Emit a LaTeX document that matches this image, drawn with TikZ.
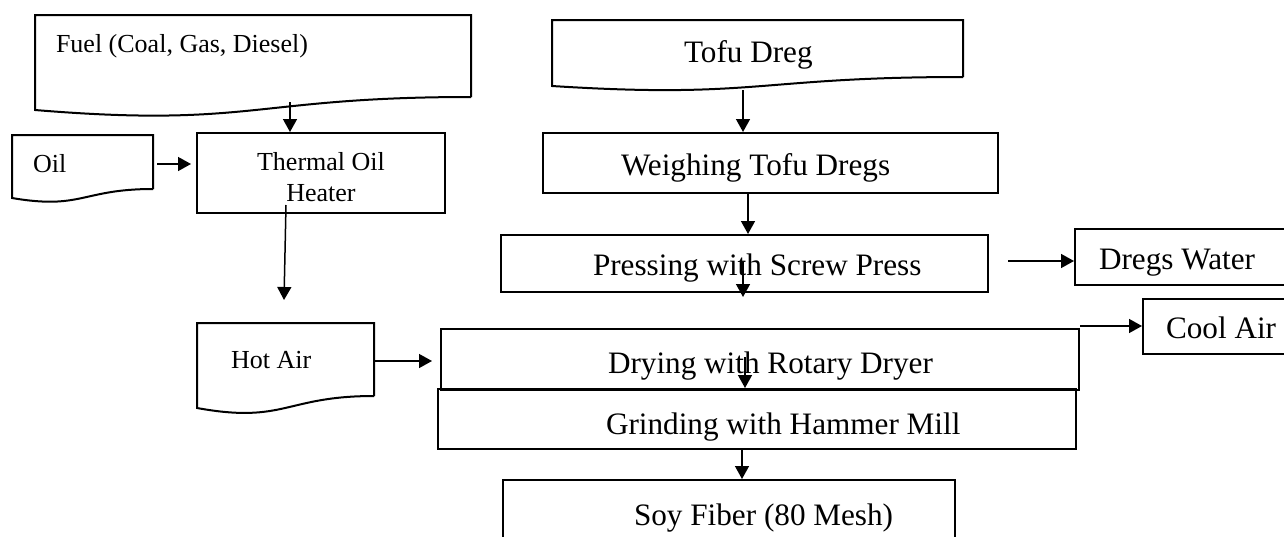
\documentclass[tikz,border=0pt]{standalone}
\usepackage{fontspec}
\setmainfont{Liberation Serif}
\usetikzlibrary{arrows.meta, positioning, fit}

\begin{document}
\begin{tikzpicture}[x=0.5pt,y=-0.5pt,line width=1pt,
box/.style={draw,rectangle,inner sep=0pt,line width=1pt},
sml/.style={inner sep=0pt,anchor=base west,font=\fontsize{13}{15.5}\selectfont},
big/.style={inner sep=0pt,anchor=base west,font=\fontsize{15.6}{18}\selectfont},
arr/.style={-{Triangle[length=6.5pt,width=7pt]},line width=0.75pt},
doc/.style={line width=1pt,line join=miter}
]
\useasboundingbox (0,0) rectangle (1284,536);
\clip (0,0) rectangle (1284,536);

% left column: heater
\draw[doc] (471,97) -- (471,15) -- (35,15) -- (35,110) .. controls (253,128) and (253,97) .. (471,97);
\node[sml] (fuel) at (55,52) {Fuel (Coal, Gas, Diesel)};
\draw[doc] (153,189) -- (153,135) -- (12,135) -- (12,198) .. controls (82,210) and (82,189) .. (153,189);
\node[sml] (oil) at (32,172) {Oil};
\node[box,fit={(197,133) (445,213)}] (heater) {};
\node[sml,anchor=base,align=center] (heatertxt) at (321,201) {Thermal Oil\\Heater};
\draw[doc] (374,396) -- (374,323) -- (197,323) -- (197,408) .. controls (285,424) and (285,396) .. (374,396);
\node[sml] (hot) at (230,368) {Hot Air};

% main line
\draw[doc] (963,77) -- (963,20) -- (552,20) -- (552,86) .. controls (757,99) and (757,77) .. (963,77);
\node[big] (tofu) at (683,62) {Tofu Dreg};
\node[box,fit={(543,133) (998,193)}] (weigh) {};
\node[big] (weightxt) at (620,175) {Weighing Tofu Dregs};
\node[box,fit={(501,235) (988,292)}] (press) {};
\node[big] (presstxt) at (592,275) {Pressing with Screw Press};
\node[box,fit={(1075,229) (1320,285)}] (water) {};
\node[big] (watertxt) at (1098,269) {Dregs Water};
\node[box,fit={(441,329) (1079,390)}] (dry) {};
\node[big] (drytxt) at (607,373) {Drying with Rotary Dryer};
\node[box,fit={(1143,299) (1320,354)}] (cool) {};
\node[big] (cooltxt) at (1165,338) {Cool Air};
\node[box,fit={(438,389) (1076,449)}] (grind) {};
\node[big] (grindtxt) at (605,434) {Grinding with Hammer Mill};
\node[box,fit={(503,480) (955,560)}] (soy) {};
\node[big] (soytxt) at (633,525) {Soy Fiber (80 Mesh)};

% arrow ends
\coordinate (fuelout) at (290,102);
\coordinate (oilout) at (157,164);
\coordinate (heatout) at (286,205);
\coordinate (hotin) at (284,300);
\coordinate (hotout) at (374,361);
\coordinate (tofuout) at (743,90);
\coordinate (weighout) at (748,193);
\coordinate (pressmid) at (743,262);
\coordinate (pressout) at (1008,261);
\coordinate (drymid) at (745,357);
\coordinate (dryout) at (1080,326);
\coordinate (grindout) at (742,449);

\draw[arr] (fuelout) -- (fuelout |- heater.north);
\draw[arr] (oilout) -- ([xshift=-2.5pt]oilout -| heater.west);
\draw[arr] (heatout) -- (hotin);
\draw[arr] (hotout) -- ([xshift=-4pt]hotout -| dry.west);
\draw[arr] (tofuout) -- (tofuout |- weigh.north);
\draw[arr] (weighout) -- (weighout |- press.north);
\draw[arr] (pressmid) -- ([yshift=-2pt]pressmid |- press.south);
\draw[arr] (pressout) -- (pressout -| water.west);
\draw[arr] (drymid) -- (drymid |- grind.north);
\draw[arr] (dryout) -- (dryout -| cool.west);
\draw[arr] (grindout) -- (grindout |- soy.north);
\end{tikzpicture}
\end{document}
